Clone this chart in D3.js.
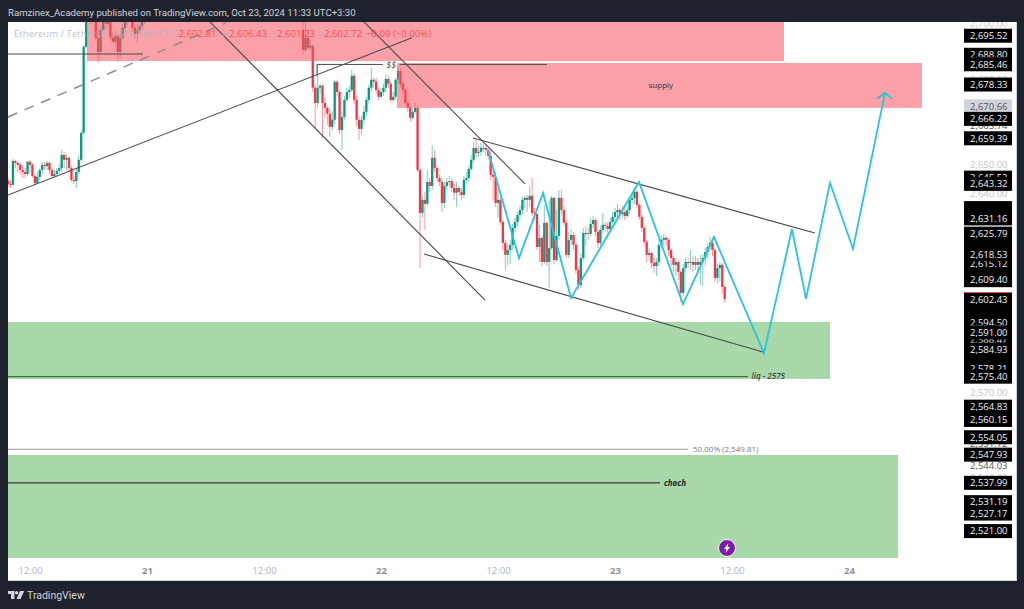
<!DOCTYPE html>
<html>
<head>
<meta charset="utf-8">
<script src="https://cdn.jsdelivr.net/npm/d3@7"></script>
<style>
  html, body { margin: 0; padding: 0; background: #1e222d; }
  svg { display: block; }
  text { font-family: "Open Sans", sans-serif; }
</style>
</head>
<body>
<svg id="chart" width="1024" height="609"></svg>
<script>
// 15 min candles, first stretch before price leaves the top of the pane
const firstStart = '2024-10-20T09:45:00';
const firstOpen = 2644.4;
const firstClose = [2643.3,2643,2651.4,2650.7,2650,2648.2,2647.5,2646.8,2651.1,2650,2646.1,2643.6,2645.8,2648.2,2650,2649.6,2650.7,2648.2,2646.1,2646.8,2647.9,2648.9,2653.5,2651.8,2652.5,2648.9,2644.7,2644.3,2647.5,2651.8,2661.3,2691.6,2702.9,2704.6,2701.8,2703.2,2694.8,2689.8,2697.6,2701.8,2699.7,2701.1,2694.8,2693.4,2695.5,2689.8,2694.8,2698.3,2700.4,2702.9,2701.8,2698.3,2696.2,2697.6,2699,2700.4,2702.9];
const firstHigh = [2645.4,2644.7,2652.1,2651.8,2651.1,2650.7,2650,2648.9,2651.4,2651.8,2650.7,2646.8,2647.5,2648.9,2651.1,2651.1,2651.4,2651.1,2648.9,2648.2,2648.9,2650.4,2655.3,2654.6,2653.9,2653.2,2649.6,2646.1,2648.9,2653.2,2662.3,2692.3,2706.4,2707.4,2706.4,2705.3,2704.6,2697.6,2699.3,2703.9,2703.2,2702.9,2702.5,2696.2,2697.6,2696.2,2696.2,2700.4,2702.5,2705.3,2704.6,2704.6,2699,2699.7,2701.1,2702.9,2705.3];
const firstLow = [2642.2,2641.9,2642.6,2648.9,2647.5,2646.5,2645.4,2645.4,2646.1,2647.5,2645.4,2642.6,2643.3,2644.7,2646.8,2648.2,2648.2,2646.8,2645.4,2645.4,2645.8,2646.8,2647.5,2648.9,2648.2,2647.5,2644,2643.3,2641.9,2646.8,2651.1,2660.6,2691.3,2701.1,2699.7,2701.1,2693.4,2686,2689.8,2696.9,2697.6,2698.3,2694.1,2692.7,2692,2686.3,2687.7,2694.1,2696.9,2699.3,2700.4,2696.9,2694.8,2693,2696.2,2697.6,2699.7];

// second stretch, back into view on the 21st and up to the last bar
const secondStart = '2024-10-21T16:00:00';
const secondOpen = 2697.6;
const secondClose = [2690.5,2694.8,2691.3,2692,2677.2,2671.8,2677.2,2677.9,2671.8,2670.1,2668,2663.4,2665.9,2679.3,2675.7,2662.3,2666.9,2672.9,2675.7,2676.4,2681.4,2672.9,2665.9,2662.7,2665.9,2668.7,2672.9,2677.2,2680,2679.3,2676.4,2674,2675.7,2677.2,2680.3,2678.6,2672.9,2674,2680,2683.1,2678.6,2676.4,2671.8,2670.1,2666.6,2668.7,2670.1,2648.2,2633.1,2637.7,2636.3,2644,2642.6,2652.5,2648.9,2645.4,2644,2636.6,2642.6,2644,2644.3,2641.9,2640.2,2641.9,2640.5,2639.4,2644.7,2645.4,2648.6,2651.8,2656,2654.2,2654.6,2656,2656,2655.3,2653.2,2646.5,2645.8,2636.6,2637.7,2629.9,2622.5,2618.3,2620,2621.8,2627.8,2629.9,2632.4,2634.1,2637.7,2638.4,2637.7,2639.1,2633.1,2632.7,2621.1,2624.3,2615.8,2629.6,2615.8,2620.7,2638.4,2616.5,2625,2638.4,2634.1,2629.6,2618.3,2623.6,2625.3,2621.8,2613,2607.7,2617.2,2626,2626,2625.7,2629.2,2630.6,2626.4,2622.5,2627.1,2628.9,2628.5,2627.4,2629.9,2631.7,2633.4,2634.1,2632.7,2633.4,2632,2634.1,2637.7,2638.4,2640.5,2635.9,2631.7,2627.8,2622.9,2618.3,2619,2615.5,2614.4,2615.8,2621.8,2623.6,2624.3,2623.6,2620,2617.2,2614.8,2615.8,2612.3,2604.9,2613.7,2615.8,2615.5,2615.8,2614.8,2615.8,2614.8,2615.8,2617.2,2619.3,2621.1,2622.5,2620,2610.2,2613.7,2614.8,2607,2602.7];
const secondHigh = [2701.1,2700.4,2697.6,2694.1,2692,2678.6,2685.2,2678.6,2678.6,2673.6,2670.8,2669.4,2668.7,2680,2680,2676.4,2668.7,2674.3,2677.2,2677.9,2683.5,2682.1,2674.3,2667.3,2667.3,2670.8,2674,2678.2,2684.2,2680.7,2680.7,2677.2,2677.2,2678.6,2682.1,2681.4,2679.3,2675.7,2680.7,2684.9,2684.2,2679.3,2677.2,2672.9,2670.8,2670.1,2671.8,2670.8,2648.9,2639.1,2640.5,2648.2,2645.4,2656.7,2655.3,2649.6,2646.5,2644.7,2644,2645.4,2646.1,2645.4,2643.3,2644,2642.6,2641.9,2646.1,2647.5,2649.6,2653.5,2658.1,2658.8,2656.7,2657.8,2657.4,2657.4,2656,2655.3,2648.2,2647.5,2641.9,2638.4,2630.6,2623.6,2621.8,2623.6,2629.2,2631.3,2633.4,2635.5,2638.7,2639.1,2639.4,2642.6,2645.4,2634.8,2633.4,2628.9,2625,2635.9,2629.9,2637.7,2639.1,2638.7,2634.1,2641.2,2641.2,2635.5,2630.6,2626.4,2627.1,2626.4,2622.5,2614.1,2618.6,2627.8,2628.5,2627.8,2631.3,2632,2631.3,2627.1,2628.5,2633.1,2629.9,2629.9,2631.3,2633.4,2634.8,2636.3,2634.8,2635.5,2634.8,2635.5,2639.1,2639.8,2641.9,2641.2,2636.6,2632.4,2628.5,2623.6,2620.7,2619.3,2617.2,2617.2,2623.6,2625,2625.7,2625,2624.3,2620.7,2617.9,2617.2,2616.5,2613,2615.1,2617.2,2617.2,2620,2617.9,2617.9,2617.2,2618.3,2618.6,2620.7,2622.1,2624.6,2623.6,2620.7,2615.1,2615.8,2615.5,2607.7];
const secondLow = [2689.1,2689.8,2690.5,2690.5,2675.7,2663,2670.1,2675,2659.5,2666.6,2664.1,2659.9,2662.3,2664.5,2674.3,2660.9,2655.3,2665.9,2672.2,2673.6,2675.7,2671.5,2663.7,2658.8,2660.9,2664.5,2667.3,2671.5,2675.7,2677.2,2675,2672.9,2673.6,2674.3,2675.7,2677.2,2672.2,2672.2,2672.9,2678.6,2677.2,2675,2670.8,2668.7,2665.2,2665.9,2668,2647.5,2613.7,2631.3,2627.1,2635.5,2640.5,2641.2,2647.5,2644,2642.6,2633.4,2634.8,2641.2,2642.6,2640.5,2637.7,2635.2,2639.1,2637.7,2638.4,2643.3,2644,2647.8,2650.7,2652.5,2652.8,2653.2,2654.6,2653.2,2651.8,2644.7,2637.7,2635.2,2631.3,2628.9,2620,2613,2614.4,2615.1,2620,2626.4,2628.5,2630.6,2632.7,2634.8,2633.4,2635.2,2632,2630.6,2620,2615.8,2614.4,2615.1,2614.4,2606.6,2620,2615.1,2615.8,2623.6,2632.7,2628.5,2617.2,2617.2,2621.8,2620,2611.6,2605.9,2606.6,2616.5,2621.5,2623.6,2625,2627.8,2625,2620.7,2621.5,2625.7,2626.4,2625.7,2626.4,2629.2,2629.9,2631.3,2630.6,2631.3,2630.6,2631.3,2632.7,2636.3,2636.3,2634.8,2630.6,2626.4,2621.5,2615.8,2616.5,2613.7,2611.9,2610.9,2614.4,2620.7,2621.5,2621.5,2617.9,2614.4,2612.3,2610.9,2609.5,2601.7,2603.8,2612.3,2613.7,2613,2612.3,2613,2611.6,2607.7,2607.4,2614.4,2617.2,2620,2617.9,2608.8,2608.4,2608.8,2604.5,2601.4];

// drawings, as [hours after Oct 21 00:00, price]
const blackLines = [
  [[-14.26, 2689.1], [-0.41, 2689.1]],
  [[-14.26, 2639.4], [27.18, 2694.8]],
  [[6.46, 2700.4], [34.67, 2602.4]],
  [[22.05, 2701.1], [38.77, 2643.3]],
  [[33.44, 2659.5], [68.51, 2626]],
  [[28.41, 2618.6], [63.18, 2584.1]]
];
const dashedLine = [[-14.26, 2666.9], [8.1, 2700]];
const sweepLine = [[17.44, 2681.5], [17.44, 2685.4], [24.2, 2685.4]];
const sweepLine2 = [[25.9, 2685.4], [41.03, 2685.4]];
const liqLine = [[-14.26, 2575.4], [61.64, 2575.4]];
const halfLine = [[-14.26, 2549.81], [55.49, 2549.81]];
const chochLine = [[-14.26, 2537.99], [52.62, 2537.99]];
const pathLine = [[34.97, 2655.3], [38.15, 2617.2], [40.62, 2640.1], [43.49, 2603.1], [50.46, 2644], [54.97, 2601], [58.15, 2624.6], [63.28, 2583.7], [66.15, 2627.4], [67.59, 2602.8], [70.05, 2643.7], [72.41, 2620.4], [75.69, 2675.4]];
const arrowLine = [[74.87, 2673.3], [75.69, 2675.4], [76.41, 2673.3]];

// zones: hour from, hour to, price top, price bottom
const redZones = [[-6.15, 65.33, 2702, 2686.6], [25.64, 79.49, 2685.9, 2670.1]];
const greenZones = [[-14.26, 70.05, 2594.7, 2574.6], [-14.26, 77.03, 2547.8, 2511.5]];

const greyTicks = [2700, 2680, 2650, 2640, 2570, 2540];
const plainLabels = [2663.74, 2551.72, 2544.03];
const coveredBoxes = [2634.8, 2621.9, 2612.6, 2598.6, 2580.4];
const coveredLabels = [2645.52, 2615.12, 2588.47, 2578.21];
const blackLabels = [2695.52, 2688.80, 2685.46, 2678.33, 2666.22, 2659.39, 2643.32, 2631.16, 2625.79, 2618.53, 2609.40, 2602.43, 2594.50, 2591.00, 2584.93, 2575.40, 2564.83, 2560.15, 2554.05, 2547.93, 2537.99, 2531.19, 2527.17, 2521.00];
const timeTicks = ['2024-10-20T12:00', '2024-10-21T00:00', '2024-10-21T12:00', '2024-10-22T00:00', '2024-10-22T12:00', '2024-10-23T00:00', '2024-10-23T12:00', '2024-10-24T00:00'];

const svg = d3.select('#chart');
const zero = new Date('2024-10-21T00:00:00');
const atHour = (h) => new Date(+zero + h * 3600000);

const x = d3.scaleTime()
  .domain([new Date('2024-10-21T00:00:00'), new Date('2024-10-24T00:00:00')])
  .range([147, 849]);
const y = d3.scaleLinear().domain([2700, 2570]).range([23, 392]);
const priceFmt = d3.format(',.2f');

function buildBars(start, open, closes, highs, lows) {
  let prev = open;
  return closes.map((c, i) => {
    const bar = { t: new Date(+new Date(start) + i * 900000), o: prev, c: c, h: highs[i], l: lows[i] };
    prev = c;
    return bar;
  });
}
const bars = buildBars(firstStart, firstOpen, firstClose, firstHigh, firstLow)
  .concat(buildBars(secondStart, secondOpen, secondClose, secondHigh, secondLow));

svg.append('rect').attr('x', 8).attr('y', 22).attr('width', 1008).attr('height', 558).attr('fill', '#fff');
svg.append('rect').attr('x', 1016).attr('y', 22).attr('width', 1).attr('height', 559).attr('fill', '#d1d4dc');
svg.append('rect').attr('x', 8).attr('y', 580).attr('width', 1008).attr('height', 1).attr('fill', '#d1d4dc');

svg.append('defs').append('clipPath').attr('id', 'pane')
  .append('rect').attr('x', 8).attr('y', 22).attr('width', 955).attr('height', 536);
const pane = svg.append('g').attr('clip-path', 'url(#pane)');

// candles
const upColor = '#089981';
const downColor = '#f23645';
const candle = pane.append('g').selectAll('g').data(bars).join('g');
candle.append('line')
  .attr('x1', (d) => x(d.t)).attr('x2', (d) => x(d.t))
  .attr('y1', (d) => y(d.h)).attr('y2', (d) => y(d.l))
  .attr('stroke', (d) => d.c >= d.o ? upColor : downColor)
  .attr('stroke-opacity', 0.5);
candle.append('rect')
  .attr('x', (d) => x(d.t) - 1.15)
  .attr('width', 2.3)
  .attr('y', (d) => y(Math.max(d.o, d.c)))
  .attr('height', (d) => Math.max(1, Math.abs(y(d.o) - y(d.c))))
  .attr('fill', (d) => d.c >= d.o ? upColor : downColor);

// zones sit over the candles
function drawZones(zones, fill) {
  pane.append('g').selectAll('rect').data(zones).join('rect')
    .attr('x', (d) => x(atHour(d[0])))
    .attr('width', (d) => x(atHour(d[1])) - x(atHour(d[0])))
    .attr('y', (d) => y(d[2]))
    .attr('height', (d) => y(d[3]) - y(d[2]))
    .attr('fill', fill);
}
drawZones(redZones, 'rgba(247,82,95,0.55)');
drawZones(greenZones, 'rgba(76,175,80,0.48)');

const line = d3.line().x((d) => x(atHour(d[0]))).y((d) => y(d[1]));
function drawLine(points, color, width, dash) {
  pane.append('path').attr('d', line(points)).attr('fill', 'none')
    .attr('stroke', color).attr('stroke-width', width)
    .attr('stroke-dasharray', dash || null);
}
blackLines.forEach((l) => drawLine(l, '#4a4a4a', 1.1));
drawLine(dashedLine, '#8e8e90', 1.5, '10 8');
drawLine(sweepLine, '#4a4f52', 1);
drawLine(sweepLine2, '#4a4f52', 1);
drawLine(liqLine, '#2f7d38', 1.1);
drawLine(halfLine, '#9598a1', 1);
drawLine(chochLine, '#3a3a3a', 1.1);
drawLine(pathLine, '#2cc3dc', 1.8);
drawLine(arrowLine, '#2cc3dc', 1.8);

function note(str, hour, price, opts) {
  pane.append('text').text(str)
    .attr('x', x(atHour(hour))).attr('y', y(price)).attr('dy', '0.35em')
    .attr('text-anchor', opts.anchor || 'middle')
    .attr('font-size', opts.size || 8)
    .attr('font-style', opts.italic ? 'italic' : null)
    .attr('font-weight', opts.weight || null)
    .attr('fill', opts.color || '#333');
}
note('$$', 25.05, 2685.4, { size: 9, italic: true, color: '#555' });
note('supply', 52.7, 2678, { size: 8, color: '#333' });
note('liq - 2575', 63.72, 2575.4, { size: 8, italic: true, color: '#3a4a3a', weight: 600 });
note('50.00% (2,549.81)', 56, 2549.81, { size: 8, anchor: 'start', color: '#787b86' });
note('choch', 54.15, 2537.99, { size: 8, italic: true, weight: 700, color: '#222' });

// legend line over the top zone
const legend = svg.append('text').attr('y', 37).attr('font-size', 9.6);
legend.append('tspan').attr('x', 14).attr('fill', 'rgba(178,181,190,0.85)').text('Ethereum / TetherUS, 15, BINANCE');
[['O', '2,602.81', 171], ['H', '2,606.43', 222], ['L', '2,601.23', 272], ['C', '2,602.72', 318]].forEach(([k, v, px]) => {
  legend.append('tspan').attr('x', px).attr('fill', 'rgba(178,181,190,0.85)').text(k);
  legend.append('tspan').attr('fill', 'rgba(242,54,69,0.8)').text(v);
});
legend.append('tspan').attr('x', 366).attr('fill', 'rgba(242,54,69,0.8)').text('\u22120.09 (\u22120.00%)');

// price scale
const yAxis = d3.axisRight(y).tickValues(greyTicks).tickFormat(priceFmt).tickSize(0);
const yAxisG = svg.append('g').attr('transform', 'translate(970,0)').call(yAxis);
yAxisG.select('.domain').remove();
yAxisG.selectAll('text').attr('x', 0).attr('font-family', '"Open Sans", sans-serif').attr('font-size', 9.5).attr('fill', '#c4c6cc');

svg.append('g').selectAll('text').data(plainLabels).join('text')
  .text((d) => priceFmt(d)).attr('x', 970).attr('y', (d) => y(d)).attr('dy', '0.35em')
  .attr('font-size', 9.5).attr('fill', '#555');

function priceBox(price, fill, color, showText) {
  const g = svg.append('g').attr('transform', `translate(964,${y(price)})`);
  g.append('rect').attr('y', -7).attr('width', 48).attr('height', 14).attr('fill', fill);
  if (showText) {
    g.append('text').text(priceFmt(price)).attr('x', 6).attr('dy', '0.35em')
      .attr('font-size', 9.5).attr('fill', color);
  }
}
priceBox(2602.72, '#f23645', '#f23645', false);
priceBox(2670.66, '#d1d4dc', '#50535e', true);
coveredBoxes.forEach((p) => priceBox(p, '#000', '#f0f3fa', false));
coveredLabels.forEach((p) => priceBox(p, '#000', '#f0f3fa', true));
blackLabels.forEach((p) => priceBox(p, '#000', '#f0f3fa', true));

// time scale
const xAxis = d3.axisBottom(x).tickValues(timeTicks.map((d) => new Date(d)))
  .tickFormat((d) => d.getHours() === 0 ? d3.timeFormat('%-d')(d) : d3.timeFormat('%H:%M')(d)).tickSize(0);
const xAxisG = svg.append('g').attr('transform', 'translate(0,564)').call(xAxis);
xAxisG.select('.domain').remove();
xAxisG.selectAll('text').attr('font-family', '"Open Sans", sans-serif').attr('font-size', 9.5)
  .attr('fill', (d) => d.getHours() === 0 ? '#8f929b' : '#b2b5be')
  .attr('font-weight', (d) => d.getHours() === 0 ? 700 : null);

// lightning badge
const badge = svg.append('g').attr('transform', 'translate(727,548)');
badge.append('circle').attr('r', 8.5).attr('fill', '#7b1fa2').attr('stroke', '#fff').attr('stroke-width', 1);
badge.append('path').attr('d', 'M1.5,-5 L-3,1 L-0.5,1 L-1.5,5 L3,-1 L0.5,-1 Z').attr('fill', '#fff');

// header and footer
svg.append('rect').attr('width', 1024).attr('height', 22).attr('fill', '#1e222d');
svg.append('text').text('Ramzinex_Academy published on TradingView.com, Oct 23, 2024 11:33 UTC+3:30')
  .attr('x', 8).attr('y', 16).attr('font-size', 9.6).attr('fill', '#d1d4dc')
  .style('font-family', 'Roboto, sans-serif');

const logo = svg.append('g').attr('fill', '#d1d4dc');
logo.append('path').attr('d', 'M8,591 H14.5 V599 H11 V594 H8 Z');
logo.append('circle').attr('cx', 16.6).attr('cy', 592.7).attr('r', 1.7);
logo.append('path').attr('d', 'M20,591 H24.3 L20.5,599 H16.5 Z');
svg.append('text').text('TradingView').attr('x', 27).attr('y', 599)
  .attr('font-size', 10.5).attr('fill', '#d1d4dc')
  .style('font-family', 'Roboto, sans-serif');
</script>
</body>
</html>
